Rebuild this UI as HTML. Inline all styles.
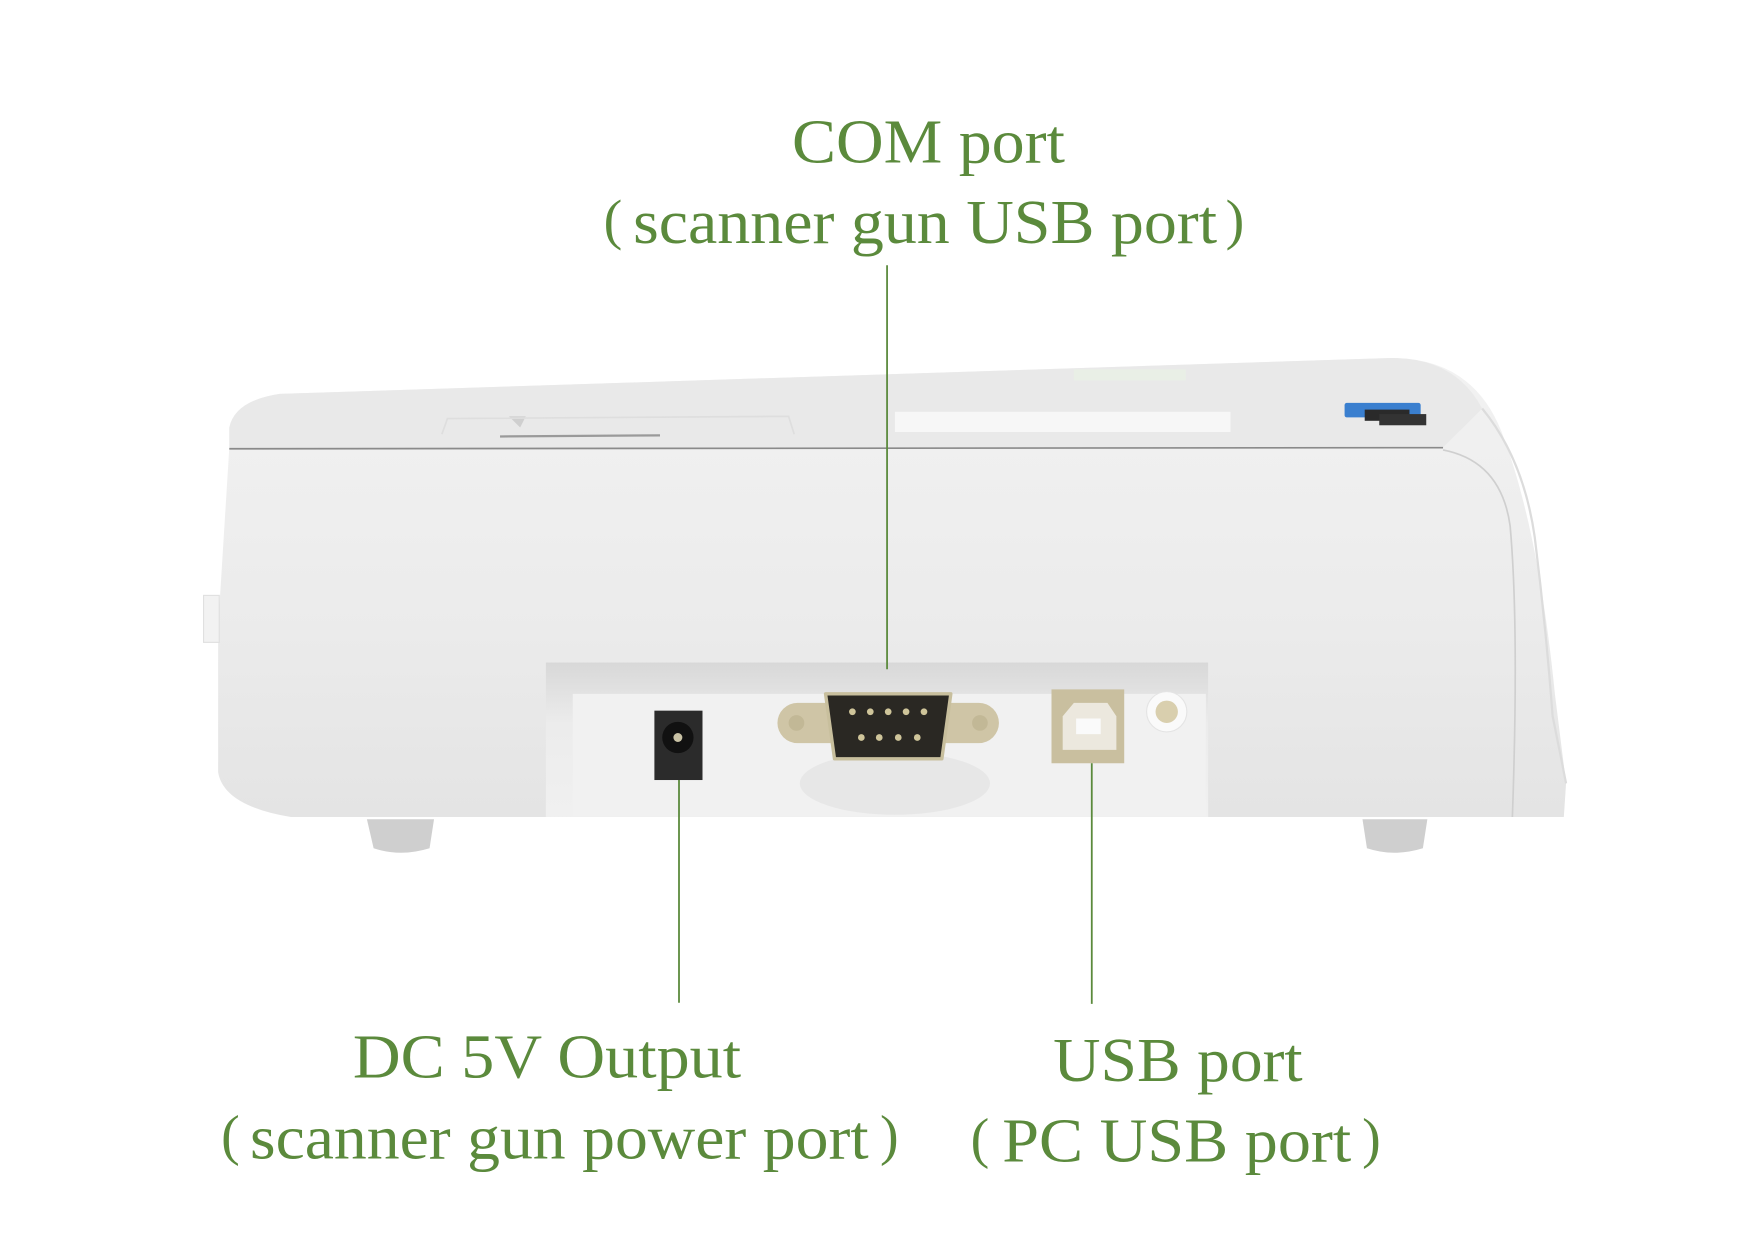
<!DOCTYPE html>
<html><head><meta charset="utf-8"><style>
html,body{margin:0;padding:0;background:#fff;width:1754px;height:1240px;overflow:hidden}
svg{display:block}
text{font-family:"Liberation Serif","Noto Serif CJK SC",serif;fill:#5b8a3c}
</style></head><body>
<svg width="1754" height="1240" viewBox="0 0 1568 1108" preserveAspectRatio="none">
<defs>
<linearGradient id="body" x1="0" y1="0" x2="0" y2="1">
<stop offset="0" stop-color="#f2f2f2"/><stop offset="0.6" stop-color="#ebebeb"/><stop offset="1" stop-color="#e4e4e4"/></linearGradient>
<linearGradient id="panel" x1="0" y1="0" x2="0" y2="1">
<stop offset="0" stop-color="#d8d8d8"/><stop offset="0.4" stop-color="#ececec"/><stop offset="1" stop-color="#f0f0f0"/></linearGradient>
</defs>
<!-- outer silhouette -->
<path d="M205 382 Q210 358 250 352 L1240 320 Q1315 318 1342 385 Q1375 470 1390 620 L1400 700 L1398 730 L260 730 Q200 720 195 690 L195 560 L205 400 Z" fill="url(#body)"/>
<!-- lid top shading -->
<path d="M205 382 Q210 358 250 352 L1240 320 Q1300 318 1325 365 L1290 400 L205 402 Z" fill="#e9e9e9"/>
<path d="M1290 402 Q1342 412 1350 470 Q1358 560 1352 730" fill="none" stroke="#cfcfcf" stroke-width="1.5"/>
<path d="M1325 365 Q1362 410 1372 480 Q1382 560 1388 640 L1400 700" fill="none" stroke="#dcdcdc" stroke-width="2"/>
<line x1="205" y1="401" x2="1290" y2="400" stroke="#8a8a8a" stroke-width="1.5"/>
<!-- left tab -->
<rect x="182" y="532" width="14" height="42" fill="#f2f2f2" stroke="#e0e0e0"/>
<!-- top details -->
<line x1="447" y1="390" x2="590" y2="389" stroke="#9a9a9a" stroke-width="2"/>
<path d="M455 372 L465 382 L470 372 Z" fill="#cfcfcf"/>
<path d="M395 388 L400 374 L705 372 L710 388" fill="none" stroke="#dedede" stroke-width="1.5"/>
<rect x="800" y="368" width="300" height="18" fill="#f7f7f7"/>
<rect x="960" y="330" width="100" height="10" fill="#e9efe6"/>
<!-- blue usb on top -->
<rect x="1202" y="360" width="68" height="13" rx="2" fill="#3a7fcf"/>
<rect x="1220" y="366" width="40" height="10" fill="#2a2a2a"/>
<rect x="1233" y="370" width="42" height="10" fill="#333"/>
<!-- port panel -->
<rect x="488" y="592" width="592" height="138" fill="url(#panel)"/>
<rect x="512" y="620" width="566" height="110" fill="#f1f1f1"/>
<!-- DC jack -->
<rect x="585" y="635" width="43" height="62" fill="#2b2b2b"/>
<circle cx="606" cy="659" r="14" fill="#111"/>
<circle cx="606" cy="659" r="4" fill="#c9c2a5"/>
<!-- DB9 -->
<ellipse cx="800" cy="700" rx="85" ry="28" fill="#e2e2e2" opacity="0.7"/>
<rect x="695" y="628" width="198" height="36" rx="18" fill="#cfc5a6"/>
<circle cx="712" cy="646" r="7" fill="#c2b896"/>
<circle cx="876" cy="646" r="7" fill="#c2b896"/>
<path d="M738 620 L850 620 L842 678 L746 678 Z" fill="#2a2823" stroke="#c8bf9d" stroke-width="3" stroke-linejoin="round"/>
<g fill="#cfc59a">
<circle cx="762" cy="636" r="3"/><circle cx="778" cy="636" r="3"/><circle cx="794" cy="636" r="3"/><circle cx="810" cy="636" r="3"/><circle cx="826" cy="636" r="3"/>
<circle cx="770" cy="659" r="3"/><circle cx="786" cy="659" r="3"/><circle cx="803" cy="659" r="3"/><circle cx="820" cy="659" r="3"/>
</g>
<!-- USB B -->
<rect x="940" y="616" width="65" height="66" fill="#c9bf9f"/>
<path d="M950 640 L960 628 L990 628 L998 640 L998 670 L950 670 Z" fill="#ece8de"/>
<rect x="962" y="642" width="22" height="14" fill="#fafafa"/>
<!-- round -->
<circle cx="1043" cy="636" r="18" fill="#fafafa" stroke="#e4e4e4"/>
<circle cx="1043" cy="636" r="10" fill="#d9cfae"/>
<!-- feet -->
<path d="M328 732 L388 732 L384 758 Q358 766 334 758 Z" fill="#cfcfcf"/>
<path d="M1218 732 L1276 732 L1272 758 Q1246 766 1222 758 Z" fill="#cfcfcf"/>
<!-- connector lines -->
<g stroke="#5b8a3c" stroke-width="1.6">
<line x1="793" y1="237" x2="793" y2="598"/>
<line x1="607" y1="697" x2="607" y2="896"/>
<line x1="976" y1="682" x2="976" y2="897"/>
</g>
<!-- labels -->
<text x="830" y="145" font-size="56" text-anchor="middle" textLength="244" lengthAdjust="spacingAndGlyphs">COM port</text>
<text x="548" y="213" font-size="50" text-anchor="middle">(</text>
<text x="827" y="217" font-size="56" text-anchor="middle" textLength="522" lengthAdjust="spacingAndGlyphs">scanner gun USB port</text>
<text x="1104" y="213" font-size="50" text-anchor="middle">)</text>
<text x="489" y="963" font-size="56" text-anchor="middle" textLength="347" lengthAdjust="spacingAndGlyphs">DC 5V Output</text>
<text x="206" y="1031" font-size="50" text-anchor="middle">(</text>
<text x="500" y="1035" font-size="56" text-anchor="middle" textLength="553" lengthAdjust="spacingAndGlyphs">scanner gun power port</text>
<text x="795" y="1031" font-size="50" text-anchor="middle">)</text>
<text x="1053" y="966" font-size="56" text-anchor="middle" textLength="223" lengthAdjust="spacingAndGlyphs">USB port</text>
<text x="876" y="1034" font-size="50" text-anchor="middle">(</text>
<text x="1052" y="1038" font-size="56" text-anchor="middle" textLength="312" lengthAdjust="spacingAndGlyphs">PC USB port</text>
<text x="1226" y="1034" font-size="50" text-anchor="middle">)</text>
</svg>
</body></html>
